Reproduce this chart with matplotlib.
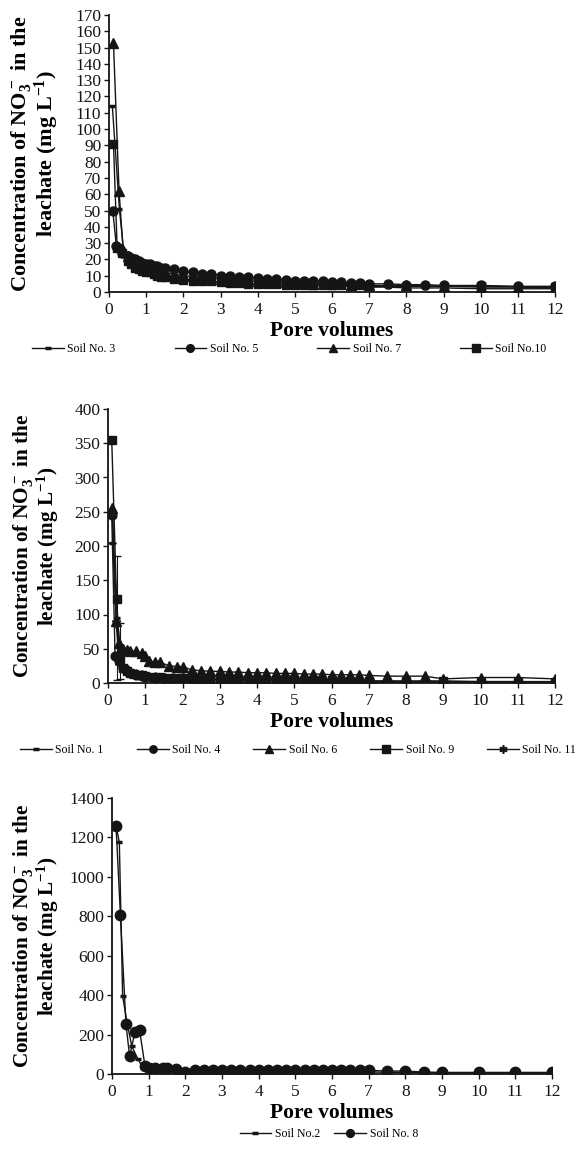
import matplotlib
matplotlib.use('Agg')
import matplotlib.pyplot as plt

plt.rcParams['font.family'] = 'Liberation Serif'
plt.rcParams['mathtext.default'] = 'regular'

INK = '#151515'

## panel 1 : soils 3, 5, 7, 10
pv_s3 = [0.09, 0.28, 0.4, 0.5, 0.6, 0.7, 0.8, 0.9, 1.0, 1.1, 1.2, 1.3, 1.4, 1.5, 1.75, 2.0, 2.25, 2.5, 2.75, 3.0,
         3.25, 3.5, 3.75, 4.0, 4.5, 5.0, 5.5, 6.0, 6.5, 7.0, 7.5, 8.0, 8.5, 9.0, 10.0, 11.0, 12.0]
no3_s3 = [114, 51, 24, 21, 19, 17, 15, 14, 13, 12, 11, 10, 9.5, 9, 8.5, 8, 7.5, 7, 6.5, 6,
          6, 5.5, 5, 5, 4.5, 4, 4, 3.5, 3.5, 3, 3, 2.5, 2.5, 2.5, 2, 2, 2]

pv_s5 = [0.1, 0.2, 0.35, 0.5, 0.6, 0.7, 0.8, 0.9, 1.0, 1.1, 1.2, 1.3, 1.4, 1.5, 1.75, 2.0, 2.25, 2.5, 2.75, 3.0,
         3.25, 3.5, 3.75, 4.0, 4.25, 4.5, 4.75, 5.0, 5.25, 5.5, 5.75, 6.0, 6.25, 6.5, 6.75, 7.0, 7.5, 8.0, 8.5, 9.0,
         10.0, 11.0, 12.0]
no3_s5 = [50, 28, 24, 22, 21, 20, 19, 18, 17, 17, 16, 16, 15, 15, 14, 13, 12, 11, 11, 10,
          10, 9.5, 9, 8.5, 8, 8, 7.5, 7, 7, 6.5, 6.5, 6, 6, 5.5, 5.5, 5, 5, 4.5, 4.5, 4,
          4, 3.5, 3.5]

pv_s7 = [0.12, 0.27, 0.38, 0.5, 0.6, 0.7, 0.8, 0.9, 1.0, 1.1, 1.2, 1.3, 1.4, 1.5, 1.75, 2.0, 2.5, 3.0, 3.5, 4.0,
         4.5, 5.0, 5.5, 6.0, 6.5, 7.0, 8.0, 9.0, 10.0, 11.0, 12.0]
no3_s7 = [153, 62, 26, 22, 20, 18, 17, 16, 15, 15, 14, 14, 13, 12, 11, 10, 9, 8, 7, 6.5,
          6, 5.5, 5, 5, 4.5, 4, 4, 3.5, 3, 3, 2.5]

pv_s10 = [0.12, 0.22, 0.36, 0.5, 0.6, 0.7, 0.8, 0.9, 1.0, 1.1, 1.2, 1.3, 1.4, 1.5, 1.75, 2.0, 2.25, 2.5, 2.75, 3.0,
          3.25, 3.5, 3.75, 4.0, 4.25, 4.5, 4.75, 5.0, 5.25, 5.5, 5.75, 6.0, 6.25, 6.5, 6.75, 7.0, 10.0, 12.0]
no3_s10 = [91, 27, 24, 19, 17, 15, 14, 13, 12, 12, 11, 10, 9, 9, 8, 7.5, 7, 7, 6.5, 6,
           5.5, 5.5, 5, 5, 5, 5, 4.5, 4.5, 4.5, 4.5, 4, 4, 4, 4, 4, 3.5, 3.5, 3]

## panel 2 : soils 1, 4, 6, 9, 11
pv_s1 = [0.12, 0.25, 0.33, 0.45, 0.6, 0.75, 0.9, 1.0, 1.25, 1.5, 1.75, 2.0, 2.5, 3.0, 3.5, 4.0, 4.5, 5.0, 5.5, 6.0,
         6.5, 7.0, 8.0, 9.0, 10.0, 11.0, 12.0]
no3_s1 = [205, 95, 47, 25, 16, 12, 10, 9, 8, 7, 6, 6, 5, 5, 4, 4, 4, 3, 3, 3,
          3, 2, 2, 2, 2, 2, 1]
err_s1 = [0, 90, 41, 0, 0, 0, 0, 0, 0, 0, 0, 0, 0, 0, 0, 0, 0, 0, 0, 0,
          0, 0, 0, 0, 0, 0, 0]

pv_s4 = [0.1, 0.19, 0.3, 0.4, 0.5, 0.6, 0.75, 0.9, 1.0, 1.25, 1.5, 1.75, 2.0, 2.25, 2.5, 2.75, 3.0, 3.25, 3.5, 3.75,
         4.0, 4.25, 4.5, 4.75, 5.0, 5.25, 5.5, 5.75, 6.0, 6.25, 6.5, 6.75, 7.0, 8.0, 9.0, 10.0, 11.0, 12.0]
no3_s4 = [245, 40, 32, 22, 17, 14, 12, 10, 9, 8, 8, 7, 7, 6, 6, 6, 5, 5, 5, 5,
          4, 4, 4, 4, 4, 4, 3, 3, 3, 3, 3, 3, 0.5, 2, 2, 1.5, 1.5, 1]

pv_s6 = [0.12, 0.22, 0.3, 0.4, 0.5, 0.6, 0.75, 0.9, 1.0, 1.1, 1.25, 1.4, 1.65, 1.85, 2.0, 2.25, 2.5, 2.75, 3.0, 3.25,
         3.5, 3.75, 4.0, 4.25, 4.5, 4.75, 5.0, 5.25, 5.5, 5.75, 6.0, 6.25, 6.5, 6.75, 7.0, 7.5, 8.0, 8.5, 9.0, 10.0,
         11.0, 12.0]
no3_s6 = [255, 90, 58, 50, 48, 47, 46, 44, 40, 32, 31, 30, 25, 24, 24, 19, 18, 17, 17, 16,
          16, 15, 15, 15, 14, 14, 14, 13, 13, 13, 12, 12, 12, 12, 11, 10, 10, 10, 6, 8,
          8, 6]

pv_s9 = [0.1, 0.23, 0.33, 0.4, 0.5, 0.6, 0.7, 0.8, 0.9, 1.0, 1.2, 1.4, 1.6, 1.8, 2.0, 2.25, 2.5, 2.75, 3.0, 3.5,
         4.0, 4.5, 5.0, 5.5, 6.0, 6.5, 7.0, 8.0, 9.0, 10.0, 11.0, 12.0]
no3_s9 = [355, 122, 35, 22, 17, 15, 13, 12, 11, 10, 9, 9, 8, 8, 7, 7, 6, 6, 6, 5,
          5, 5, 4, 4, 4, 3, 3, 3, 3, 2, 2, 2]

pv_s11 = [0.12, 0.22, 0.3, 0.4, 0.5, 0.6, 0.75, 0.9, 1.0, 1.25, 1.5, 2.0, 2.5, 3.0, 3.5, 4.0, 4.5, 5.0, 5.5, 6.0,
          6.5, 7.0, 8.0, 9.0, 10.0, 11.0, 12.0]
no3_s11 = [245, 88, 30, 22, 18, 15, 13, 11, 10, 9, 8, 7, 6, 5, 5, 4, 4, 4, 3, 3,
           3, 3, 2, 2, 2, 2, 2]

## panel 3 : soils 2, 8
pv_s2 = [0.11, 0.2, 0.29, 0.42, 0.54, 0.71, 0.85, 1.0, 1.25, 1.5, 1.75, 2.0, 2.5, 3.0, 3.5, 4.0, 4.5, 5.0, 5.5, 6.0,
         6.5, 7.0, 8.0, 9.0, 10.0, 11.0, 12.0]
no3_s2 = [1260, 1175, 395, 250, 140, 75, 30, 20, 15, 12, 10, 10, 10, 10, 10, 10, 10, 10, 10, 10,
          10, 10, 8, 6, 5, 5, 5]

pv_s8 = [0.11, 0.23, 0.38, 0.48, 0.63, 0.75, 0.9, 1.02, 1.18, 1.4, 1.5, 1.75, 2.0, 2.25, 2.5, 2.75, 3.0, 3.25, 3.5, 3.75,
         4.0, 4.25, 4.5, 4.75, 5.0, 5.25, 5.5, 5.75, 6.0, 6.25, 6.5, 6.75, 7.0, 7.5, 8.0, 8.5, 9.0, 10.0, 11.0, 12.0]
no3_s8 = [1260, 805, 255, 90, 215, 225, 40, 30, 30, 28, 28, 25, 12, 18, 18, 18, 18, 18, 18, 18,
          18, 18, 18, 18, 18, 18, 18, 18, 18, 18, 18, 18, 18, 15, 15, 10, 8, 8, 8, 8]

ylab = 'Concentration of NO$_3^-$ in the\nleachate (mg L$^{-1}$)'

W, H = 582, 1150


def style_axes(ax, ymax, ystep, left_px, ylab_size):
    ax.set_xlim(0, 12)
    ax.set_ylim(0, ymax)
    ax.set_xticks(range(0, 13))
    ax.set_yticks(range(0, ymax + 1, ystep))
    for s in ['top', 'right']:
        ax.spines[s].set_visible(False)
    for s in ['left', 'bottom']:
        ax.spines[s].set_linewidth(1.3)
        ax.spines[s].set_color(INK)
    ax.tick_params(direction='out', length=3.5, width=1, labelsize=12.5, pad=2, colors=INK)
    ax.tick_params(axis='x', pad=4)
    ax.set_xlabel('Pore volumes', fontsize=15.5, fontweight='bold', labelpad=2)
    ax.set_ylabel(ylab, fontsize=ylab_size, fontweight='bold', linespacing=1.0)
    # right edge of the label block sits ~61 px from the figure's left edge
    ax_w = ax.get_position().width * W
    ax.yaxis.set_label_coords((61 - left_px) / ax_w, 0.5)


def serie(ax, x, y, mk, ms, lab, mew=1):
    ax.plot(x, y, color=INK, lw=1, marker=mk, ms=ms, mew=mew, mfc=INK, mec=INK, label=lab)


def box(left, bottom, right, top):
    # pixel box -> figure fraction
    return [left / W, 1 - bottom / H, (right - left) / W, (bottom - top) / H]


leg_kw = dict(loc='center', frameon=False, fontsize=8.5, handlelength=2.7, handletextpad=0.3)

fig = plt.figure(figsize=(W / 100, H / 100), dpi=100)

# 1 - soils 3, 5, 7, 10
ax1 = fig.add_axes(box(109, 292, 555, 15))
serie(ax1, pv_s3, no3_s3, '_', 5, 'Soil No. 3', mew=2.5)
serie(ax1, pv_s5, no3_s5, 'o', 6.5, 'Soil No. 5')
serie(ax1, pv_s7, no3_s7, '^', 7, 'Soil No. 7')
serie(ax1, pv_s10, no3_s10, 's', 6.3, 'Soil No.10')
style_axes(ax1, 170, 10, 109, 16)
fig.legend(*ax1.get_legend_handles_labels(), bbox_to_anchor=(0.497, 1 - 349 / H), ncol=4,
           columnspacing=5.0, markerscale=0.85, **leg_kw)

# 2 - soils 1, 4, 6, 9, 11
ax2 = fig.add_axes(box(108, 683, 555, 409))
serie(ax2, pv_s1, no3_s1, '_', 5, 'Soil No. 1', mew=2.5)
ax2.errorbar(pv_s1, no3_s1, yerr=err_s1, fmt='none', ecolor=INK, elinewidth=0.8, capsize=3)
serie(ax2, pv_s4, no3_s4, 'o', 6.3, 'Soil No. 4')
serie(ax2, pv_s6, no3_s6, '^', 6.8, 'Soil No. 6')
serie(ax2, pv_s9, no3_s9, 's', 6.3, 'Soil No. 9')
serie(ax2, pv_s11, no3_s11, (6, 2, 0), 7, 'Soil No. 11', mew=1.2)
style_axes(ax2, 400, 50, 108, 15.3)
fig.legend(*ax2.get_legend_handles_labels(), bbox_to_anchor=(0.512, 1 - 750 / H), ncol=5,
           columnspacing=2.8, markerscale=0.85, **leg_kw)

# 3 - soils 2, 8
ax3 = fig.add_axes(box(112, 1074, 552, 798))
serie(ax3, pv_s2, no3_s2, '_', 5, 'Soil No.2', mew=2.5)
serie(ax3, pv_s8, no3_s8, 'o', 7.5, 'Soil No. 8')
style_axes(ax3, 1400, 200, 112, 15.3)
fig.legend(*ax3.get_legend_handles_labels(), bbox_to_anchor=(0.565, 1 - 1134 / H), ncol=2,
           columnspacing=1.2, markerscale=0.75, **leg_kw)

fig.savefig('out.png', dpi=100)
